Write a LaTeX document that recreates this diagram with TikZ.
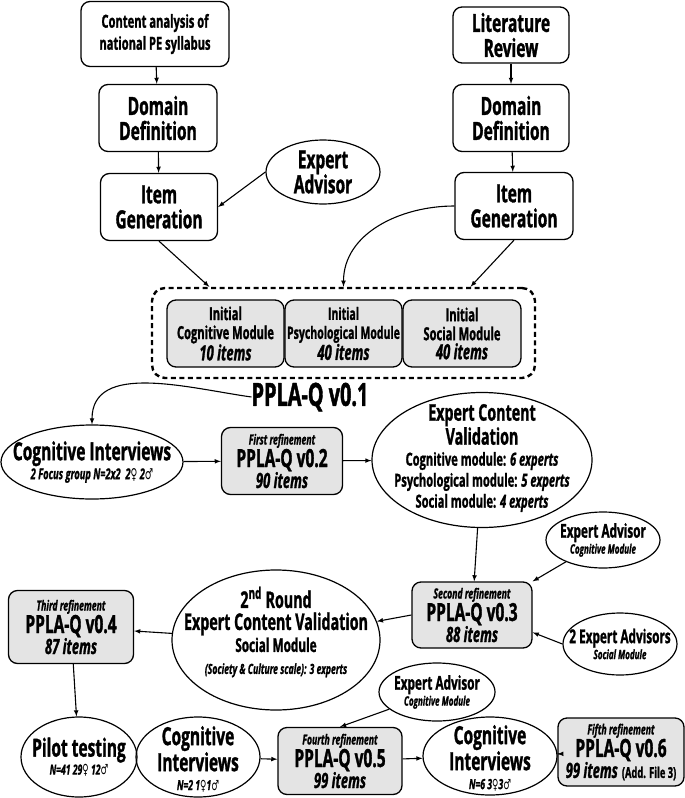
\documentclass[tikz,border=0pt]{standalone}
\usepackage{fontspec}
\setmainfont{Open Sans}[FakeStretch=0.62,BoldFeatures={FakeBold=1.2},BoldItalicFeatures={FakeBold=1.2}]
\newfontfamily\gsym{DejaVu Sans}[FakeStretch=0.62]
\usetikzlibrary{shapes.geometric}
\definecolor{boxgrey}{HTML}{E4E4E4}
\newcommand\tsize[2]{\fontsize{#1}{#2}\selectfont}
\newcommand\fsym{{\gsym ♀}}
\newcommand\msym{{\gsym ♂}}
\begin{document}
\begin{tikzpicture}[x=1pt,y=1pt,>=latex,line join=round,
  font=\bfseries,
  box/.style={draw,line width=1.3pt,rounded corners=9pt,align=center,inner sep=1pt},
  greybox/.style={box,fill=boxgrey},
  oval/.style={draw,ellipse,line width=1.2pt,inner sep=0pt},
  txt/.style={align=center,inner sep=0pt},
  big/.style={font=\bfseries\tsize{25}{25}},
  edge/.style={->,line width=1.1pt}]
  \useasboundingbox (0,0) rectangle (685,-798);
%%
  % Node: top left column
  \node[box,minimum width=148,minimum height=65,font=\bfseries\tsize{18}{22}] (cont) at (155,-34)
    {Content analysis of\\national PE syllabus};
  \node[box,big,minimum width=118,minimum height=67] (ddl) at (158,-118) {Domain\\Definition};
  \node[box,big,minimum width=117,minimum height=67] (igl) at (159,-207) {Item\\Generation};
  \node[oval,minimum width=114,minimum height=64] (ea) at (323,-172) {};
  \node[txt,big] at (ea) {Expert\\Advisor};
  % Node: top right column
  \node[box,big,minimum width=116,minimum height=56] (lit) at (511,-35) {Literature\\Review};
  \node[box,big,minimum width=116,minimum height=67] (ddr) at (511,-118) {Domain\\Definition};
  \node[box,big,minimum width=118,minimum height=67] (igr) at (514,-206) {Item\\Generation};
  % Node: PPLA-Q v0.1
  \node[draw,line width=2.4pt,dash pattern=on 5pt off 3.5pt,rounded corners=13pt,
    minimum width=383,minimum height=90] (frame) at (343.5,-333) {};
  \node[greybox,minimum width=117,minimum height=67,font=\bfseries\tsize{18}{19}] (cogm) at (225.5,-333.5)
    {Initial\\Cognitive Module\\{\tsize{21}{19}\itshape 10 items}};
  \node[greybox,minimum width=117,minimum height=67,font=\bfseries\tsize{17}{19}] (psym) at (343.5,-333.5)
    {Initial\\Psychological Module\\{\tsize{21}{19}\itshape 40 items}};
  \node[greybox,minimum width=118,minimum height=67,font=\bfseries\tsize{18}{19}] (socm) at (462,-333.5)
    {Initial\\Social Module\\{\tsize{21}{19}\itshape 40 items}};
  \node[txt] (v01) at (310,-397) {\tsize{32}{32}PPLA-Q v0.1};
  % Node: first round
  \node[oval,minimum width=182,minimum height=74] (ci1) at (92,-462) {};
  \node[txt,font=\bfseries\tsize{25}{19}] at (ci1) {Cognitive Interviews\\
    {\tsize{15}{19}\itshape 2 Focus group N=2x2\ \ 2\fsym\ 2\msym}};
  \node[greybox,minimum width=121,minimum height=67,font=\bfseries\tsize{25}{21}] (v02) at (282,-461)
    {{\tsize{14}{14}\itshape First refinement}\\PPLA-Q v0.2\\{\tsize{21}{18}\itshape 90 items}};
  \node[oval,minimum width=220,minimum height=135] (ecv) at (482,-460) {};
  \node[txt,font=\bfseries\tsize{18}{21}] at ([yshift=2]ecv) {{\tsize{23}{17}Expert Content}\\
    {\tsize{23}{18}Validation}\\
    Cognitive module: {\itshape 6 experts}\\
    Psychological module: {\itshape 5 experts}\\
    Social module: {\itshape 4 experts}};
  % Node: second round
  \node[oval,minimum width=114,minimum height=56] (eaa) at (603,-540) {};
  \node[txt,font=\bfseries\tsize{19}{16}] at (eaa) {Expert Advisor\\{\tsize{13}{14}\itshape Cognitive Module}};
  \node[greybox,minimum width=120,minimum height=66,font=\bfseries\tsize{25}{21}] (v03) at (472,-615)
    {{\tsize{14}{14}\itshape Second refinement}\\PPLA-Q v0.3\\{\tsize{21}{18}\itshape 88 items}};
  \node[oval,minimum width=114,minimum height=62] (ea2s) at (620,-644) {};
  \node[txt,font=\bfseries\tsize{19}{16}] at (ea2s) {2 Expert Advisors\\{\tsize{13}{14}\itshape Social Module}};
  \node[oval,minimum width=208,minimum height=140] (r2) at (276,-640) {};
  \node[txt,font=\bfseries\tsize{23}{22}] at ([yshift=8]r2) {2\textsuperscript{nd} Round\\Expert Content Validation\\
    {\tsize{19}{22}Social Module}\\{\tsize{14}{19}\itshape (Society \& Culture scale): 3 experts}};
  \node[greybox,minimum width=125,minimum height=73,font=\bfseries\tsize{25}{21}] (v04) at (71,-627)
    {{\tsize{14}{14}\itshape Third refinement}\\PPLA-Q v0.4\\{\tsize{21}{18}\itshape 87 items}};
  % Node: bottom row
  \node[oval,minimum width=116,minimum height=80] (pilot) at (79,-757) {};
  \node[txt,font=\bfseries\tsize{25}{18}] at (pilot) {Pilot testing\\{\tsize{14}{18}\itshape N=41 29\fsym\ 12\msym}};
  \node[oval,minimum width=124,minimum height=80] (ci2) at (198,-757) {};
  \node[txt,font=\bfseries\tsize{25}{19}] at ([yshift=-2]ci2) {Cognitive\\Interviews\\{\tsize{14}{16}\itshape N=2 1\fsym1\msym}};
  \node[oval,minimum width=116,minimum height=58] (eab) at (437,-692) {};
  \node[txt,font=\bfseries\tsize{19}{16}] at (eab) {Expert Advisor\\{\tsize{13}{14}\itshape Cognitive Module}};
  \node[greybox,minimum width=124,minimum height=67,font=\bfseries\tsize{25}{21}] (v05) at (340,-761)
    {{\tsize{14}{14}\itshape Fourth refinement}\\PPLA-Q v0.5\\{\tsize{21}{18}\itshape 99 items}};
  \node[oval,minimum width=134,minimum height=78] (ci3) at (490,-756) {};
  \node[txt,font=\bfseries\tsize{25}{19}] at ([yshift=-2]ci3) {Cognitive\\Interviews\\{\tsize{14}{16}\itshape N=6 3\fsym3\msym}};
  \node[greybox,minimum width=126,minimum height=68,font=\bfseries\tsize{25}{21}] (v06) at (621,-752)
    {{\tsize{14}{14}\itshape Fifth refinement}\\PPLA-Q v0.6\\
     {\tsize{21}{18}\itshape 99 items} {\tsize{15}{18}(Add. File 3)}};
%%
  % Edge: content analysis -> domain -> item
  \draw[edge] (cont) -- (ddl);
  \draw[edge] (ddl) -- (igl);
  \draw[edge] (ea.west) -- (igl.east);
  % Edge: literature -> domain -> item
  \draw[edge] (lit) -- (ddr);
  \draw[edge] (ddr) -- (igr);
  % Edge: item generation -> modules
  \draw[edge] (igl.south) -- (frame.161);
  \draw[edge] (igr.west) to[out=180,in=90] (frame.north);
  \draw[edge] (igr.south) -- (frame.20);
  % Edge: v0.1 -> v0.2 -> content validation
  \draw[edge] (v01.west) to[out=172,in=90] (ci1.north);
  \draw[edge] (ci1) -- (v02);
  \draw[edge] (v02) -- (ecv);
  % Edge: content validation -> v0.3
  \draw[edge] (ecv) -- (v03);
  \draw[edge] (eaa) -- (v03.north east);
  \draw[edge] (ea2s.west) -- (v03.-16);
  % Edge: v0.3 -> 2nd round -> v0.4
  \draw[edge] (v03.west) -- (r2);
  \draw[edge] (r2) -- (v04);
  \draw[edge] (v04) -- (pilot);
  % Edge: bottom row
  \draw[edge] (ci2) -- (v05);
  \draw[edge] (eab) -- (v05.north);
  \draw[edge] (v05) -- (ci3);
  \draw[edge] (ci3) -- (v06);
%
\end{tikzpicture}
\end{document}
